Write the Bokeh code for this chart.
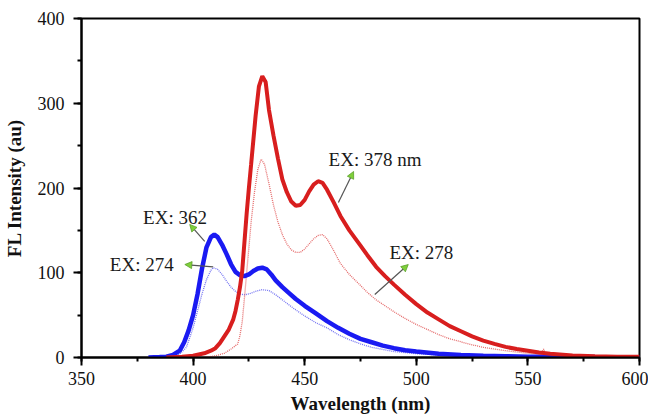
from bokeh.plotting import figure
from bokeh.models import (ColumnDataSource, Range1d, SingleIntervalTicker, Arrow,
                          NormalHead)
from bokeh.core.properties import value
from bokeh.embed import file_html
from bokeh.resources import INLINE

# ---- data ----
wl_362 = [380, 385, 388, 391, 394, 396, 398, 400, 402, 404, 406, 408, 409.5, 411, 413, 415,
          417, 419, 421, 423, 425, 427, 429, 431, 433, 435, 437, 440, 443, 446, 450, 455,
          460, 465, 470, 475, 480, 485, 490, 495, 500, 510, 520, 530, 540, 550, 560, 580, 600]
fl_362 = [0, 0.5, 1, 3, 8, 18, 32, 50, 75, 105, 130, 142, 145, 142, 133, 122,
          110, 101, 97, 96, 98, 102, 105, 106, 104, 98, 91, 83, 76, 69, 61, 52,
          43, 35, 28, 22, 18, 14, 11, 8.5, 7, 4.5, 3, 2, 1.5, 1, 0.8, 0.5, 0.3]

wl_274 = [380, 390, 394, 397, 400, 402, 404, 406, 408, 409, 411, 413, 415, 417, 419, 421,
          423, 425, 428, 431, 434, 437, 440, 445, 450, 455, 460, 465, 470, 475, 480, 490,
          500, 510, 520, 540, 560, 600]
fl_274 = [0, 1, 4, 12, 35, 55, 75, 92, 103, 106, 104, 98, 90, 83, 78, 75,
          74, 75, 78, 80, 79, 74, 68, 58, 49, 41, 35, 27, 21, 16, 12, 7,
          4.5, 3, 2, 1, 0.6, 0.3]

wl_378 = [388, 395, 400, 405, 408, 410, 412, 414, 416, 418, 419, 420, 421, 422, 424, 425,
          426, 428, 429.5, 431, 432.5, 434, 436, 438, 440, 442, 444, 446, 448, 450, 452,
          454, 456, 458, 460, 463, 466, 470, 475, 478, 482, 486, 490, 495, 500, 505, 510,
          515, 520, 525, 530, 535, 540, 545, 550, 555, 560, 570, 580, 590, 600]
fl_378 = [0, 1, 2, 5, 8, 11, 17, 25, 33, 45, 55, 68, 83, 102, 170, 200,
          228, 285, 320, 332, 325, 292, 262, 235, 210, 195, 184, 179, 180, 186, 196,
          204, 208, 206, 198, 183, 167, 150, 132, 121, 107, 96, 86, 74, 63, 53, 45,
          37, 31, 25, 20, 16, 12.5, 10, 8, 6, 4.5, 2.5, 1.5, 1, 0.8]

wl_278 = [405, 410, 414, 417, 419, 420, 421, 422, 423, 424, 425, 426, 427.5, 429, 430.5,
          432, 434, 436, 438, 440, 442, 444, 446, 448, 450, 452, 454, 456, 458, 460, 463,
          466, 470, 475, 478, 482, 486, 490, 495, 500, 505, 510, 515, 520, 525, 530, 535,
          540, 550, 556, 557, 558, 560, 570, 580, 600]
fl_278 = [0, 2, 5, 10, 14, 16, 26, 42, 70, 100, 130, 160, 195, 222, 234,
          228, 205, 180, 160, 145, 134, 127, 124, 124, 128, 134, 140, 144, 145, 140, 126,
          111, 98, 85, 77, 68, 61, 54, 46, 39, 33, 27, 22, 18.5, 15, 12, 10,
          8, 5, 4, 10, 4, 3, 2, 1.5, 1]

x_ticks_interval = 50
y_ticks_interval = 100

ann_text = ["EX: 378 nm", "EX: 278", "EX: 362", "EX: 274"]
ann_x = [460.7, 488.0, 377.6, 362.7]
ann_y = [233.6, 124.0, 165.0, 109.7]
arr_x0 = [465.1, 481.4, 405.2, 409.0]
arr_y0 = [182.9, 74.3, 137.0, 107.0]
arr_x1 = [471.9, 496.4, 398.5, 396.3]
arr_y1 = [219.5, 109.7, 157.0, 109.7]

# ---- figure ----
p = figure(frame_width=558, frame_height=339, output_backend="svg", toolbar_location=None,
           x_range=Range1d(350, 600), y_range=Range1d(0, 400),
           min_border_left=80, min_border_right=9, min_border_top=18,
           min_border_bottom=50)
p.background_fill_color = "white"
p.border_fill_color = "white"
p.grid.visible = False
p.outline_line_color = "black"
p.outline_line_width = 2
p.outline_line_alpha = 1

p.xaxis.ticker = SingleIntervalTicker(interval=x_ticks_interval, num_minor_ticks=2)
p.yaxis.ticker = SingleIntervalTicker(interval=y_ticks_interval, num_minor_ticks=2)
for ax in (p.xaxis[0], p.yaxis[0]):
    ax.axis_line_width = 2
    ax.axis_line_color = "black"
    ax.major_tick_line_width = 2
    ax.minor_tick_line_width = 2
    ax.major_tick_out = 8
    ax.major_tick_in = 0
    ax.minor_tick_out = 4
    ax.minor_tick_in = 0
    ax.major_label_text_font = "Liberation Serif"
    ax.major_label_text_font_size = "18px"
    ax.major_label_text_color = "#111111"
    ax.axis_label_text_font = "Liberation Serif"
    ax.axis_label_text_font_size = "19px"
    ax.axis_label_text_font_style = "bold"
    ax.axis_label_text_color = "#111111"
p.xaxis.axis_label = "Wavelength (nm)"
p.yaxis.axis_label = "FL Intensity (au)"
p.xaxis.major_label_standoff = 6
p.xaxis.axis_label_standoff = 5
p.yaxis.major_label_standoff = 9
p.yaxis.axis_label_standoff = 10

# dotted (weaker) spectra
p.line(wl_274, fl_274, line_color="#5a5af0", line_width=1.3, line_dash="1 1", line_alpha=0.85)
p.line(wl_278, fl_278, line_color="#e05050", line_width=1.3, line_dash="1 1", line_alpha=0.85)
# thick spectra
p.line(wl_362, fl_362, line_color="#1a1af2", line_width=4.5)
p.line(wl_378, fl_378, line_color="#d81e1e", line_width=4)

# annotations
for i in range(len(ann_text)):
    p.add_layout(Arrow(x_start=arr_x0[i], y_start=arr_y0[i], x_end=arr_x1[i], y_end=arr_y1[i],
                       line_color="#555555", line_width=1.2,
                       end=NormalHead(size=7, fill_color="#7fd03a", line_color="#5aa02a",
                                      line_width=0.8)))

src = ColumnDataSource(dict(x=ann_x, y=ann_y, t=ann_text))
p.text(x="x", y="y", text="t", source=src, text_font=value("Liberation Serif"),
       text_font_size="19px", text_align="left", text_baseline="middle",
       text_color="#1a1a1a")

open("out.html", "w").write(file_html(p, INLINE))
